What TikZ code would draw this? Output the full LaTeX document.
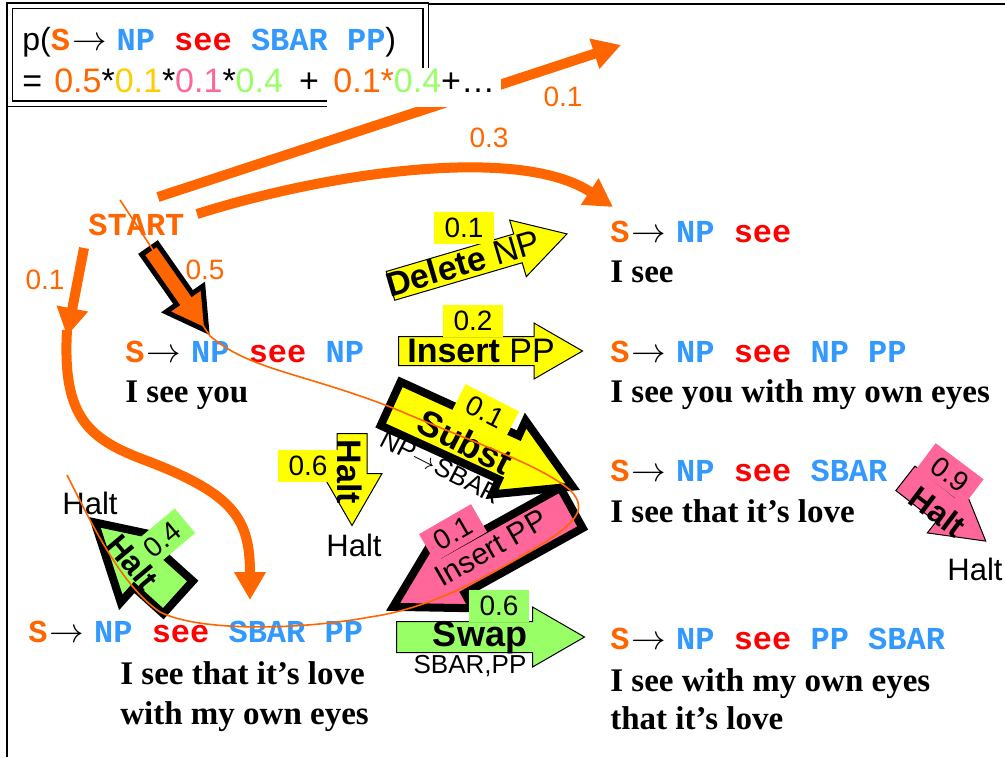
\documentclass[tikz,border=0pt]{standalone}
\usepackage{fontspec}
\setmainfont{Liberation Serif}
\setsansfont{Liberation Sans}
\setmonofont{Liberation Mono}
\usepackage{tikz}
\usetikzlibrary{arrows.meta, shapes.arrows}

\definecolor{lhsorange}{RGB}{255,102,0}
\definecolor{ntblue}{RGB}{51,153,255}
\definecolor{termred}{RGB}{255,0,0}
\definecolor{probgold}{RGB}{255,204,0}
\definecolor{edityellow}{RGB}{255,255,0}
\definecolor{editpink}{RGB}{255,102,153}
\definecolor{editgreen}{RGB}{153,255,102}

\newcommand{\lhs}{\textcolor{lhsorange}{S}\hspace{1pt}$\rightarrow$\hspace{5pt}}
\newcommand{\nt}[1]{\textcolor{ntblue}{#1}}
\newcommand{\wrd}[1]{\textcolor{termred}{#1}}

\tikzset{
    rulestr/.style={anchor=base west, inner sep=0pt, font=\fontsize{16}{19}\selectfont\ttfamily\bfseries},
    sentence/.style={anchor=base west, inner sep=0pt, font=\fontsize{16.5}{19.5}\selectfont\bfseries},
    prob/.style={inner sep=0pt, text=lhsorange, font=\fontsize{14}{16}\selectfont\sffamily},
    haltlabel/.style={inner sep=0pt, font=\fontsize{15.5}{18}\selectfont\sffamily},
    tag/.style={inner sep=0pt, minimum width=30pt, minimum height=16pt, font=\fontsize{14}{16}\selectfont\sffamily},
    optext/.style={inner sep=0pt, font=\fontsize{17}{20}\selectfont\sffamily},
    blockarrow/.style={single arrow, single arrow tip angle=60, single arrow head indent=0pt,
        inner xsep=0pt, anchor=tail, draw=black, line width=0.5pt},
    heavy/.style={line width=4pt},
    flow/.style={draw=lhsorange, line width=5pt, -{Triangle[length=14pt, width=15pt]}},
    trace/.style={draw=lhsorange, line width=0.8pt},
}

\begin{document}
\begin{tikzpicture}[x=0.5pt, y=0.5pt]
    \useasboundingbox (0,0) rectangle (1005,-757);
    \draw[line width=0.8pt] (7,-757) -- (7,-4) -- (1005,-4);

    % Derivation states
    \node[rulestr](start)   at (88,-235)  {\textcolor{lhsorange}{START}};
    \node[rulestr](r1)      at (610,-242) {\lhs\nt{NP} \wrd{see}};
    \node[sentence](s1)     at (610,-282) {I see};
    \node[rulestr](r2)      at (125,-362) {\lhs\nt{NP} \wrd{see} \nt{NP}};
    \node[sentence](s2)     at (125,-402) {I see you};
    \node[rulestr](r3)      at (610,-362) {\lhs\nt{NP} \wrd{see} \nt{NP} \nt{PP}};
    \node[sentence](s3)     at (610,-402) {I see you with my own eyes};
    \node[rulestr](r4)      at (610,-481) {\lhs\nt{NP} \wrd{see} \nt{SBAR}};
    \node[sentence](s4)     at (610,-522) {I see that it's love};
    \node[rulestr](r5)      at (28,-642)  {\lhs\nt{NP} \wrd{see} \nt{SBAR} \nt{PP}};
    \node[sentence](s5a)    at (120,-684) {I see that it's love};
    \node[sentence](s5b)    at (120,-724) {with my own eyes};
    \node[rulestr](r6)      at (610,-649) {\lhs\nt{NP} \wrd{see} \nt{PP} \nt{SBAR}};
    \node[sentence](s6a)    at (610,-691) {I see with my own eyes};
    \node[sentence](s6b)    at (610,-729) {that it's love};

    % Start probabilities
    \coordinate (go-up)  at (158,-197);
    \coordinate (up)     at (621,-45);
    \coordinate (go-r1)  at (197,-214);
    \coordinate (in-r1)  at (613,-207);
    \coordinate (go-r5)  at (84,-248);
    \coordinate (mid-r5) at (67,-336);
    \coordinate (in-r5)  at (250,-600);
    \path
        (go-up)
            edge [flow] (up)
        (go-r5)
            edge [flow] (mid-r5)
        ;
    \draw[flow] (go-r1) .. controls (330,-172) and (520,-145) .. (in-r1);
    \draw[flow] (67,-330) .. controls (62,-420) and (90,-440) .. (150,-462)
        .. controls (235,-495) and (250,-520) .. (in-r5);
    \node[blockarrow, fill=lhsorange, line width=2.5pt, minimum height=50pt, inner ysep=3.5pt,
        single arrow head extend=6.5pt, rotate=-55](go-r2) at (148,-247) {};
    \node[prob](p-up)   at (563,-97)  {0.1};
    \node[prob](p-r1)   at (489,-138) {0.3};
    \node[prob](p-r2)   at (205,-270) {0.5};
    \node[prob](p-r5)   at (45,-280)  {0.1};

    % Edit operations
    \node[blockarrow, fill=edityellow, minimum height=92pt, inner ysep=7.25pt,
        single arrow head extend=7.25pt, rotate=16.4](del) at (390,-286) {};
    \node[tag, fill=edityellow](del-p)   at (464,-228) {0.1};
    \node[optext, rotate=16.4](del-t)    at (463,-263) {\textbf{Delete} NP};

    \node[blockarrow, fill=edityellow, minimum height=92pt, inner ysep=7pt,
        single arrow head extend=6.75pt](ins) at (398,-351) {};
    \node[tag, fill=edityellow](ins-p)   at (473,-321) {0.2};
    \node[optext](ins-t)                 at (481,-351) {\textbf{Insert} PP};

    \node[blockarrow, heavy, fill=edityellow, minimum height=100pt, inner ysep=10pt,
        single arrow head extend=8.25pt, rotate=-24.5](sub) at (387,-402) {};
    \node[tag, fill=edityellow, rotate=-27](sub-p) at (485,-412) {0.1};
    \node[optext, font=\fontsize{18}{20}\selectfont\sffamily\bfseries, rotate=-27](sub-t)
        at (465,-442) {Subst};
    \node[optext, font=\fontsize{13}{15}\selectfont\sffamily, rotate=-27](sub-a)
        at (441,-467) {NP$\rightarrow$SBAR};

    \node[blockarrow, fill=edityellow, minimum height=46pt, inner ysep=7.25pt,
        single arrow head extend=7.5pt, rotate=-90](halt1) at (352,-433) {};
    \node[tag, fill=edityellow](halt1-p) at (308,-466) {0.6};
    \node[optext, font=\fontsize{17}{20}\selectfont\sffamily\bfseries, rotate=-90](halt1-t)
        at (350,-472) {Halt};
    \node[haltlabel](h1) at (354,-545) {Halt};

    \node[blockarrow, heavy, fill=editpink, minimum height=102pt, inner ysep=9.5pt,
        single arrow head extend=8.5pt, shape border rotate=180, rotate=29](ins2) at (575,-506) {};
    \node[tag, fill=editpink, rotate=30](ins2-p) at (453,-533) {0.1};
    \node[optext, font=\fontsize{15}{18}\selectfont\sffamily, rotate=30](ins2-t)
        at (491,-548) {Insert PP};

    \node[blockarrow, heavy, fill=editgreen, minimum height=56pt, inner ysep=9pt,
        single arrow head extend=10pt, shape border rotate=180, rotate=-42](halt2) at (181,-600) {};
    \node[tag, fill=editgreen, rotate=40](halt2-p) at (162,-540) {0.4};
    \node[optext, font=\fontsize{16}{18}\selectfont\sffamily\bfseries, rotate=-50](halt2-t)
        at (133,-562) {Halt};
    \node[haltlabel](h2) at (90,-503) {Halt};

    \node[blockarrow, fill=editgreen, minimum height=94pt, inner ysep=7.5pt,
        single arrow head extend=7.25pt](swap) at (396,-637) {};
    \node[tag, fill=editgreen](swap-p)   at (499,-606) {0.6};
    \node[optext, font=\fontsize{18}{20}\selectfont\sffamily\bfseries](swap-t)
        at (480,-638) {Swap};
    \node[optext, font=\fontsize{13}{15}\selectfont\sffamily](swap-a) at (470,-666) {SBAR,PP};

    \node[blockarrow, fill=editpink, minimum height=51pt, inner ysep=7.5pt,
        single arrow head extend=7pt, rotate=-38](halt3) at (905,-478) {};
    \node[tag, fill=editpink, rotate=-37](halt3-p) at (950,-474) {0.9};
    \node[optext, font=\fontsize{16}{18}\selectfont\sffamily\bfseries, rotate=-37](halt3-t)
        at (938,-512) {Halt};
    \node[haltlabel](h3) at (975,-569) {Halt};

    % Path of the derivation
    \draw[trace] (120,-200) -- (210,-336)
        .. controls (250,-370) and (300,-372) .. (393,-408)
        .. controls (480,-445) and (540,-465) .. (570,-490)
        .. controls (590,-510) and (575,-525) .. (527,-553)
        .. controls (470,-587) and (420,-610) .. (370,-617)
        .. controls (300,-630) and (200,-632) .. (160,-612)
        .. controls (120,-585) and (90,-520) .. (67,-475);

    % Formula
    \node[draw, double, double distance=2pt, line width=0.6pt, minimum width=208pt,
        minimum height=49pt, anchor=north west, inner sep=0pt](formula) at (9,-5) {};
    \node[rulestr](f1) at (22,-50)
        {{\sffamily\mdseries p(}\lhs\nt{NP} \wrd{see} \nt{SBAR} \nt{PP}{\sffamily\mdseries )}};
    \node[optext, anchor=base west](f2) at (22,-92)
        {=\hspace{6pt}\textcolor{lhsorange}{0.5}*\textcolor{probgold}{0.1}*\textcolor{editpink}{0.1}*\textcolor{editgreen}{0.4}\hspace{8pt}+};
    \node[optext, anchor=base west, fill=white, inner xsep=3pt, text height=12pt,
        text depth=7.5pt](f3) at (327,-92)
        {\textcolor{lhsorange}{0.1*}\textcolor{editgreen}{0.4}+\ldots};
\end{tikzpicture}
\end{document}
